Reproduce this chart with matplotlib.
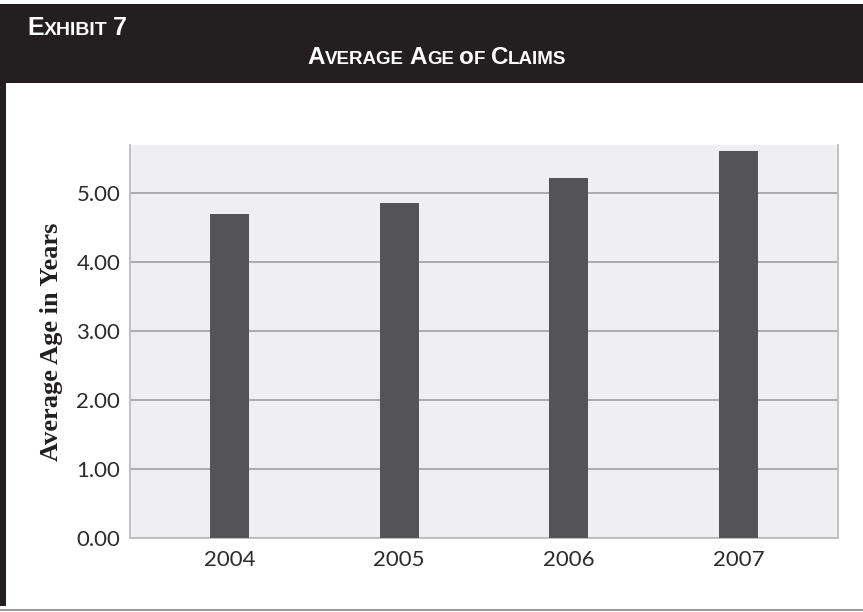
import matplotlib
matplotlib.use("Agg")
import matplotlib.pyplot as plt
from matplotlib.patches import Rectangle
from matplotlib.lines import Line2D

years = ["2004", "2005", "2006", "2007"]
avg_age = [4.70, 4.86, 5.22, 5.61]
yticks = [0, 1, 2, 3, 4, 5]

W, H = 863, 612
fig = plt.figure(figsize=(W / 100, H / 100), dpi=100)
fig.patch.set_facecolor("white")

head_font = ["Liberation Sans Narrow", "Liberation Sans", "DejaVu Sans"]
tick_font = ["Lato", "DejaVu Sans"]
label_font = ["Liberation Serif", "DejaVu Serif"]


def px(x, y):
    return x / W, 1 - y / H


# black header band and frame lines
fig.add_artist(Rectangle(px(0, 83), 1, 79 / H, transform=fig.transFigure,
                         facecolor="#231f20", edgecolor="none", zorder=0))
fig.add_artist(Rectangle(px(0, 606), 6 / W, 530 / H, transform=fig.transFigure,
                         facecolor="#231f20", edgecolor="none", zorder=0))
fig.add_artist(Line2D([0, 1], [1 - 610 / H] * 2, transform=fig.transFigure,
                      color="#9a9a9a", lw=1.5))


def small_caps(text, x, y, big, small, ha="left", weight="normal"):
    # fake small caps: first letter of each word big, rest smaller
    renderer = fig.canvas.get_renderer()
    parts = []
    for word in text.split(" "):
        if parts:
            parts.append((" ", small))
        parts.append((word[0], big))
        if len(word) > 1:
            parts.append((word[1:].upper(), small))
    artists = []
    total = 0
    for s, size in parts:
        t = fig.text(0, 0, s, fontsize=size, color="white", family=head_font,
                     fontweight=weight, va="baseline", ha="left")
        w = t.get_window_extent(renderer).width
        artists.append((t, w))
        total += w
    start = x - total / 2 if ha == "center" else x
    for t, w in artists:
        t.set_position(px(start, y))
        start += w


small_caps("Exhibit 7", 27, 35, 18, 14, weight="bold")
small_caps("Average Age of Claims", 437, 64, 17.5, 13.5, ha="center", weight="bold")

ax = fig.add_axes([130 / W, 1 - 538 / H, 708 / W, 393 / H])
ax.set_facecolor("#efeff1")
x = list(range(len(years)))
ax.bar(x, avg_age, width=0.23, color="#545456", zorder=3)

ax.set_xlim(-0.586, 3.586)
ax.set_ylim(0, 5.7)
ax.set_yticks(yticks)
ax.set_yticklabels([f"{v:.2f}" for v in yticks])
ax.set_xticks(x)
ax.set_xticklabels(years)
for lab in ax.get_xticklabels() + ax.get_yticklabels():
    lab.set_family(tick_font)
    lab.set_color("#2e2b2c")
ax.tick_params(axis="both", length=0, labelsize=16)
ax.tick_params(axis="x", pad=9)
ax.tick_params(axis="y", pad=7)
ax.grid(axis="y", color="#a5a5a8", lw=1.3, zorder=1)

for side in ["left", "bottom", "right"]:
    ax.spines[side].set_color("#bdbdc0")
    ax.spines[side].set_linewidth(1.3)
ax.spines["top"].set_visible(False)

ax.set_ylabel("Average Age in Years", family=label_font, fontweight="bold",
              fontsize=19, color="#231f20", labelpad=10)

fig.savefig("out.png", dpi=100)
